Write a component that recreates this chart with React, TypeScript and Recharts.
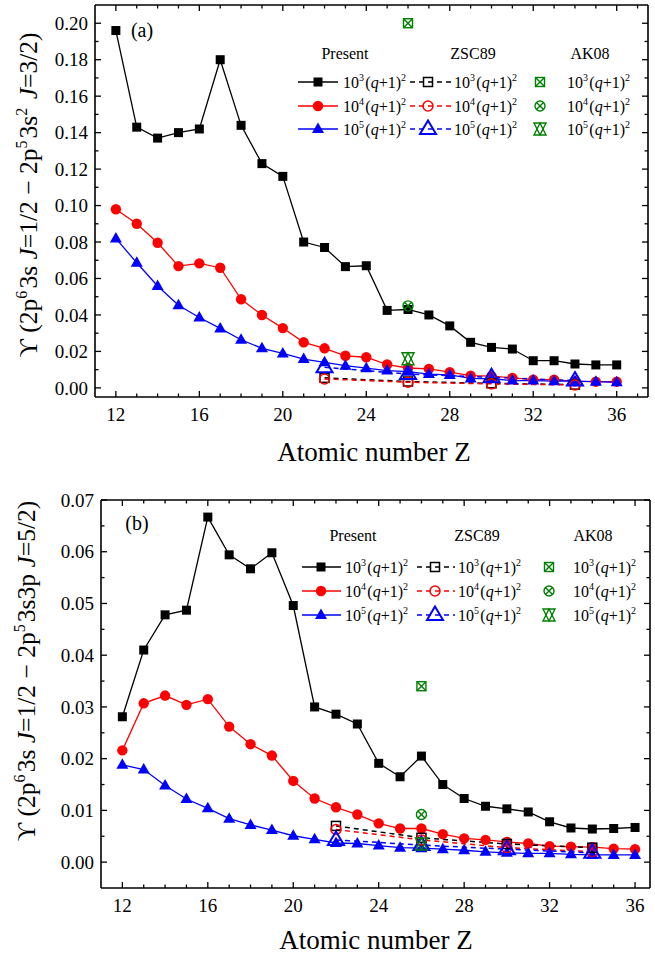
import React from 'react';
import { ComposedChart, Line, XAxis, YAxis } from 'recharts';

const FONT = '"Liberation Serif", "Times New Roman", Times, serif';

// ---------- categories ----------
const zPresent = [12, 13, 14, 15, 16, 17, 18, 19, 20, 21, 22, 23, 24, 25, 26, 27, 28, 29, 30, 31, 32, 33, 34, 35, 36];
const zZSC89 = [22, 26, 30, 34];
const zAK08 = [26];

// ---------- panel (a) values ----------
const aPresent3 = [0.196, 0.143, 0.137, 0.140, 0.142, 0.180, 0.144, 0.123, 0.116, 0.080, 0.077, 0.0665, 0.067, 0.0425, 0.043, 0.040, 0.034, 0.025, 0.0222, 0.0213, 0.0149, 0.0149, 0.0131, 0.0126, 0.0126];
const aPresent4 = [0.098, 0.090, 0.0796, 0.0668, 0.0683, 0.0659, 0.0486, 0.0400, 0.0328, 0.0250, 0.0217, 0.0176, 0.0168, 0.0128, 0.0109, 0.0104, 0.0086, 0.0067, 0.0064, 0.0055, 0.0045, 0.0045, 0.0036, 0.0034, 0.0034];
const aPresent5 = [0.082, 0.0686, 0.0559, 0.0453, 0.0386, 0.0326, 0.0264, 0.0217, 0.0189, 0.0158, 0.0140, 0.0122, 0.0108, 0.0095, 0.0089, 0.0076, 0.0071, 0.0052, 0.0050, 0.0040, 0.0040, 0.0037, 0.0037, 0.0034, 0.0031];
const aZSC3 = [0.0055, 0.0035, 0.0025, 0.0018];
const aZSC4 = [0.0049, 0.0031, 0.0022, 0.0016];
const aZSC5 = [0.0113, 0.0076, 0.0058, 0.0040];
const aAK3 = [0.200];
const aAK4 = [0.045];
const aAK5 = [0.016];

// ---------- panel (b) values ----------
const bPresent3 = [0.0281, 0.0410, 0.0478, 0.0487, 0.0667, 0.0594, 0.0567, 0.0598, 0.0496, 0.0300, 0.0286, 0.0267, 0.0191, 0.0165, 0.0205, 0.0150, 0.0123, 0.0108, 0.0103, 0.0097, 0.0078, 0.0066, 0.0064, 0.0065, 0.0067];
const bPresent4 = [0.0216, 0.0307, 0.0322, 0.0304, 0.0315, 0.0262, 0.0228, 0.0206, 0.0157, 0.0123, 0.0106, 0.0092, 0.0075, 0.0065, 0.0065, 0.0054, 0.0046, 0.0043, 0.0039, 0.0036, 0.0031, 0.0030, 0.0029, 0.0026, 0.0025];
const bPresent5 = [0.0188, 0.0179, 0.0148, 0.0122, 0.0104, 0.0084, 0.0072, 0.0062, 0.0051, 0.0044, 0.0037, 0.0036, 0.0032, 0.0028, 0.0027, 0.0025, 0.0023, 0.0020, 0.0018, 0.0017, 0.0017, 0.0015, 0.0014, 0.0014, 0.0014];
const bZSC3 = [0.0070, 0.0047, 0.0035, 0.0028];
const bZSC4 = [0.0063, 0.0043, 0.0028, 0.0020];
const bZSC5 = [0.0043, 0.0033, 0.0025, 0.0018];
const bAK3 = [0.034];
const bAK4 = [0.0092];
const bAK5 = [0.0035];

// ---------- ticks ----------
const xTicksA = [12, 13, 14, 15, 16, 17, 18, 19, 20, 21, 22, 23, 24, 25, 26, 27, 28, 29, 30, 31, 32, 33, 34, 35, 36, 37];
const xTicksB = [12, 13, 14, 15, 16, 17, 18, 19, 20, 21, 22, 23, 24, 25, 26, 27, 28, 29, 30, 31, 32, 33, 34, 35, 36];
const yTicksA = [0, 0.01, 0.02, 0.03, 0.04, 0.05, 0.06, 0.07, 0.08, 0.09, 0.1, 0.11, 0.12, 0.13, 0.14, 0.15, 0.16, 0.17, 0.18, 0.19, 0.2];
const yTicksB = [0, 0.005, 0.01, 0.015, 0.02, 0.025, 0.03, 0.035, 0.04, 0.045, 0.05, 0.055, 0.06, 0.065, 0.07];
const legendHeaders = ['Present', 'ZSC89', 'AK08'];
const legendExponents = ['3', '4', '5'];

const BLACK = '#000000';
const RED = '#ff0000';
const BLUE = '#0000ff';
const GREEN = '#008000';
const COLORS = [BLACK, RED, BLUE];

const rows = (zs: number[], vs: number[]) => zs.map((z, i) => ({ z, v: vs[i] }));

// ---------- marker shapes ----------
type Draw = (cx: number, cy: number) => React.ReactNode;
const fSquare = (c: string): Draw => (cx, cy) => <rect x={cx - 4.5} y={cy - 4.5} width={9} height={9} fill={c} />;
const fCircle = (c: string): Draw => (cx, cy) => <circle cx={cx} cy={cy} r={5.2} fill={c} />;
const fTriangle = (c: string): Draw => (cx, cy) => (
  <polygon points={`${cx},${cy - 6.5} ${cx + 6},${cy + 4} ${cx - 6},${cy + 4}`} fill={c} />
);
const hSquare = (c: string): Draw => (cx, cy) => (
  <rect x={cx - 4.5} y={cy - 4.5} width={9} height={9} fill="none" stroke={c} strokeWidth={1.5} />
);
const hCircle = (c: string): Draw => (cx, cy) => <circle cx={cx} cy={cy} r={5} fill="none" stroke={c} strokeWidth={1.5} />;
const hTriangle = (c: string): Draw => (cx, cy) => (
  <polygon points={`${cx},${cy - 8.5} ${cx + 8},${cy + 5} ${cx - 8},${cy + 5}`} fill="none" stroke={c} strokeWidth={2} />
);
const akBox: Draw = (cx, cy) => (
  <g stroke={GREEN} strokeWidth={1.4} fill="none">
    <rect x={cx - 4.5} y={cy - 4.5} width={9} height={9} />
    <line x1={cx - 4.5} y1={cy - 4.5} x2={cx + 4.5} y2={cy + 4.5} />
    <line x1={cx + 4.5} y1={cy - 4.5} x2={cx - 4.5} y2={cy + 4.5} />
  </g>
);
const akCircle: Draw = (cx, cy) => (
  <g stroke={GREEN} strokeWidth={1.4} fill="none">
    <circle cx={cx} cy={cy} r={5} />
    <line x1={cx - 3.5} y1={cy - 3.5} x2={cx + 3.5} y2={cy + 3.5} />
    <line x1={cx + 3.5} y1={cy - 3.5} x2={cx - 3.5} y2={cy + 3.5} />
  </g>
);
const akTri: Draw = (cx, cy) => (
  <g stroke={GREEN} strokeWidth={1.4} fill="none">
    <polygon points={`${cx - 6},${cy - 6} ${cx + 6},${cy - 6} ${cx},${cy + 6}`} />
    <polygon points={`${cx - 6},${cy + 6} ${cx + 6},${cy + 6} ${cx},${cy - 6}`} />
  </g>
);

const PRESENT_MK = [fSquare(BLACK), fCircle(RED), fTriangle(BLUE)];
const ZSC_MK = [hSquare(BLACK), hCircle(RED), hTriangle(BLUE)];
const AK_MK = [akBox, akCircle, akTri];

const dotOf = (draw: Draw) => (p: any) => {
  const key = `d-${p.index}`;
  if (p.cx == null || p.cy == null || isNaN(p.cx) || isNaN(p.cy)) return <g key={key} />;
  return <g key={key}>{draw(p.cx, p.cy)}</g>;
};

// ---------- tick renderers ----------
const tickStroke = { stroke: BLACK, strokeWidth: 1.3 };
const makeBottomTick = (isMajor: (v: number) => boolean) => (p: any) => {
  const v = p.payload.value;
  const maj = isMajor(v);
  return (
    <g>
      <line x1={p.x} x2={p.x} y1={p.y} y2={p.y - (maj ? 6 : 3.5)} {...tickStroke} />
      {maj && (
        <text x={p.x} y={p.y + 24} textAnchor="middle" fontFamily={FONT} fontSize={19} fill={BLACK}>
          {v}
        </text>
      )}
    </g>
  );
};
const makeTopTick = (isMajor: (v: number) => boolean) => (p: any) => {
  const maj = isMajor(p.payload.value);
  return <line x1={p.x} x2={p.x} y1={p.y} y2={p.y + (maj ? 6 : 3.5)} {...tickStroke} />;
};
const makeLeftTick = (isMajor: (v: number) => boolean) => (p: any) => {
  const v = p.payload.value;
  const maj = isMajor(v);
  return (
    <g>
      <line x1={p.x} x2={p.x + (maj ? 6 : 3.5)} y1={p.y} y2={p.y} {...tickStroke} />
      {maj && (
        <text x={p.x - 7} y={p.y} dy="0.35em" textAnchor="end" fontFamily={FONT} fontSize={19} fill={BLACK}>
          {v.toFixed(2)}
        </text>
      )}
    </g>
  );
};
const makeRightTick = (isMajor: (v: number) => boolean) => (p: any) => {
  const maj = isMajor(p.payload.value);
  return <line x1={p.x} x2={p.x - (maj ? 6 : 3.5)} y1={p.y} y2={p.y} {...tickStroke} />;
};

type Series = { id: string; data: { z: number; v: number }[]; color: string; dash?: string; width: number; draw: Draw };

type PanelProps = {
  top: number;
  height: number;
  margin: { top: number; right: number; bottom: number; left: number };
  xDomain: [number, number];
  yDomain: [number, number];
  xTicks: number[];
  yTicks: number[];
  isMajorX: (v: number) => boolean;
  isMajorY: (v: number) => boolean;
  series: Series[];
};

function Panel(props: PanelProps) {
  const { top, height, margin, xDomain, yDomain, xTicks, yTicks, isMajorX, isMajorY, series } = props;
  const axisLine = { stroke: BLACK, strokeWidth: 1.6 };
  return (
    <div style={{ position: 'absolute', left: 0, top, width: 655, height }}>
      <ComposedChart width={655} height={height} margin={margin}>
        <XAxis xAxisId="b" type="number" dataKey="z" domain={xDomain} ticks={xTicks} interval={0} allowDataOverflow
          height={1} tickSize={0} tickMargin={0} axisLine={axisLine} tickLine={false} tick={makeBottomTick(isMajorX)} />
        <XAxis xAxisId="t" orientation="top" type="number" dataKey="z" domain={xDomain} ticks={xTicks} interval={0} allowDataOverflow
          height={1} tickSize={0} tickMargin={0} axisLine={axisLine} tickLine={false} tick={makeTopTick(isMajorX)} />
        <YAxis yAxisId="l" type="number" dataKey="v" domain={yDomain} ticks={yTicks} interval={0} allowDataOverflow
          width={1} tickSize={0} tickMargin={0} axisLine={axisLine} tickLine={false} tick={makeLeftTick(isMajorY)} />
        <YAxis yAxisId="r" orientation="right" type="number" dataKey="v" domain={yDomain} ticks={yTicks} interval={0} allowDataOverflow
          width={1} tickSize={0} tickMargin={0} axisLine={axisLine} tickLine={false} tick={makeRightTick(isMajorY)} />
        {series.map((s) => (
          <Line key={s.id} xAxisId="b" yAxisId="l" data={s.data} dataKey="v" type="linear"
            stroke={s.color} strokeWidth={s.width} strokeDasharray={s.dash}
            dot={dotOf(s.draw)} activeDot={false} isAnimationActive={false} />
        ))}
      </ComposedChart>
    </div>
  );
}

const buildSeries = (p3: number[], p4: number[], p5: number[], z3: number[], z4: number[], z5: number[], k3: number[], k4: number[], k5: number[]): Series[] => {
  const pres = [p3, p4, p5];
  const zsc = [z3, z4, z5];
  const ak = [k3, k4, k5];
  const out: Series[] = [];
  pres.forEach((vs, i) => out.push({ id: `p${i}`, data: rows(zPresent, vs), color: COLORS[i], width: 1.3, draw: PRESENT_MK[i] }));
  zsc.forEach((vs, i) => out.push({ id: `z${i}`, data: rows(zZSC89, vs), color: COLORS[i], width: 1.5, dash: '5 4', draw: ZSC_MK[i] }));
  ak.forEach((vs, i) => out.push({ id: `k${i}`, data: rows(zAK08, vs), color: 'none', width: 0, draw: AK_MK[i] }));
  return out;
};

// ---------- text helpers ----------
const Sup = ({ children, size, shift }: { children: React.ReactNode; size: number; shift: number }) => (
  <>
    <tspan dy={-shift} fontSize={size}>{children}</tspan>
    <tspan dy={shift}>{'\u200A'}</tspan>
  </>
);

const LegendLabel = ({ x, y, exp }: { x: number; y: number; exp: string }) => (
  <text x={x} y={y} fontFamily={FONT} fontSize={16} fill={BLACK} dy="0.35em">
    10<Sup size={10} shift={7}>{exp}</Sup>(<tspan fontStyle="italic">q</tspan>+1)<Sup size={10} shift={7}>2</Sup>
  </text>
);

type LegendGeom = {
  headerY: number;
  rowY: number[];
  headerX: number[];
  presLine: [number, number];
  presMarker: number;
  presText: number;
  zscLine: [number, number];
  zscMarker: number;
  zscText: number;
  akMarker: number;
  akText: number;
};

function Legend({ g }: { g: LegendGeom }) {
  return (
    <g>
      {legendHeaders.map((h, i) => (
        <text key={h} x={g.headerX[i]} y={g.headerY} dy="0.35em" textAnchor="middle" fontFamily={FONT} fontSize={16} fill={BLACK}>
          {h}
        </text>
      ))}
      {legendExponents.map((e, i) => {
        const y = g.rowY[i];
        return (
          <g key={e}>
            <line x1={g.presLine[0]} x2={g.presLine[1]} y1={y} y2={y} stroke={COLORS[i]} strokeWidth={1.3} />
            {PRESENT_MK[i](g.presMarker, y)}
            <LegendLabel x={g.presText} y={y} exp={e} />
            <line x1={g.zscLine[0]} x2={g.zscLine[1]} y1={y} y2={y} stroke={COLORS[i]} strokeWidth={1.5} strokeDasharray="5 4" />
            {ZSC_MK[i](g.zscMarker, y)}
            <LegendLabel x={g.zscText} y={y} exp={e} />
            {AK_MK[i](g.akMarker, y)}
            <LegendLabel x={g.akText} y={y} exp={e} />
          </g>
        );
      })}
    </g>
  );
}

const legendA: LegendGeom = {
  headerY: 53, rowY: [82, 106, 129], headerX: [345, 473, 590],
  presLine: [298, 338], presMarker: 318, presText: 343,
  zscLine: [410, 451], zscMarker: 428, zscText: 454,
  akMarker: 540, akText: 567,
};
const legendB: LegendGeom = {
  headerY: 535, rowY: [567, 591, 615], headerX: [353, 477, 593],
  presLine: [302, 341], presMarker: 321, presText: 345,
  zscLine: [417, 455], zscMarker: 435, zscText: 458,
  akMarker: 549, akText: 573,
};

const supY = (s: string) => <Sup size={16} shift={10}>{s}</Sup>;

function YTitleA({ cx, cy }: { cx: number; cy: number }) {
  return (
    <text transform={`translate(${cx},${cy}) rotate(-90)`} x={0} y={9} textAnchor="middle" fontFamily={FONT} fontSize={25.5} fill={BLACK}>
      {'\u03D2 (2p'}{supY('6')}{'3s '}<tspan fontStyle="italic">J</tspan>{'=1/2 \u2212 2p'}{supY('5')}{'3s'}{supY('2')}{' '}<tspan fontStyle="italic">J</tspan>{'=3/2)'}
    </text>
  );
}
function YTitleB({ cx, cy }: { cx: number; cy: number }) {
  return (
    <text transform={`translate(${cx},${cy}) rotate(-90)`} x={0} y={9} textAnchor="middle" fontFamily={FONT} fontSize={25.5} fill={BLACK}>
      {'\u03D2 (2p'}{supY('6')}{'3s '}<tspan fontStyle="italic">J</tspan>{'=1/2 \u2212 2p'}{supY('5')}{'3s3p '}<tspan fontStyle="italic">J</tspan>{'=5/2)'}
    </text>
  );
}

export default function App() {
  const seriesA = buildSeries(aPresent3, aPresent4, aPresent5, aZSC3, aZSC4, aZSC5, aAK3, aAK4, aAK5);
  const seriesB = buildSeries(bPresent3, bPresent4, bPresent5, bZSC3, bZSC4, bZSC5, bAK3, bAK4, bAK5);
  const majX = (v: number) => v % 4 === 0;
  const majYA = (v: number) => Math.round(v * 100) % 2 === 0;
  const majYB = (v: number) => Math.round(v * 1000) % 10 === 0;
  return (
    <div style={{ position: 'absolute', left: 0, top: 0, width: 655, height: 958, background: '#fff' }}>
      <Panel top={0} height={470} margin={{ top: 4, right: 6, bottom: 72, left: 94 }}
        xDomain={[11, 37.5]} yDomain={[-0.005, 0.21]} xTicks={xTicksA} yTicks={yTicksA}
        isMajorX={majX} isMajorY={majYA} series={seriesA} />
      <Panel top={470} height={488} margin={{ top: 29, right: 4, bottom: 69, left: 100 }}
        xDomain={[11, 36.7]} yDomain={[-0.005, 0.07]} xTicks={xTicksB} yTicks={yTicksB}
        isMajorX={majX} isMajorY={majYB} series={seriesB} />
      <svg width={655} height={958} style={{ position: 'absolute', left: 0, top: 0, pointerEvents: 'none' }}>
        <text x={142} y={30} dy="0.35em" textAnchor="middle" fontFamily={FONT} fontSize={20}>(a)</text>
        <text x={137} y={523} dy="0.35em" textAnchor="middle" fontFamily={FONT} fontSize={20}>(b)</text>
        <Legend g={legendA} />
        <Legend g={legendB} />
        <YTitleA cx={28} cy={195} />
        <YTitleB cx={26} cy={671} />
        <text x={374} y={461} textAnchor="middle" fontFamily={FONT} fontSize={27}>Atomic number Z</text>
        <text x={376} y={949} textAnchor="middle" fontFamily={FONT} fontSize={27}>Atomic number Z</text>
      </svg>
    </div>
  );
}
